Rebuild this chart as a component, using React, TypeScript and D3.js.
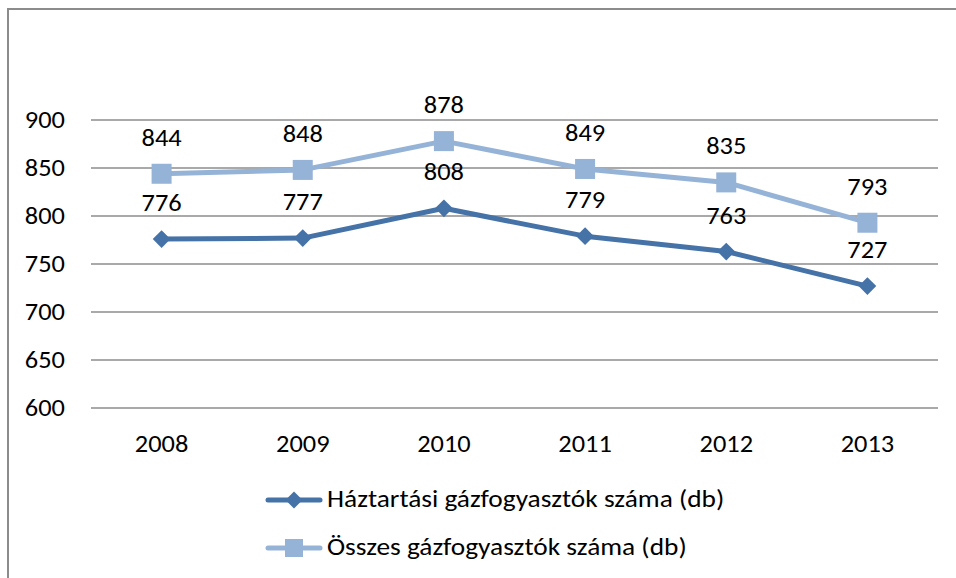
import * as d3 from 'd3'

const years = ['2008', '2009', '2010', '2011', '2012', '2013']
const households = [776, 777, 808, 779, 763, 727]
const total = [844, 848, 878, 849, 835, 793]
const yTicks = [600, 650, 700, 750, 800, 850, 900]
const seriesNames = ['Háztartási gázfogyasztók száma (db)', 'Összes gázfogyasztók száma (db)']

const W = 956
const H = 578
const font = 'Carlito, Calibri, "Open Sans", sans-serif'
const dark = '#4572a7'
const light = '#95b3d7'
const FS = 24
const SX = 1.1 // reference text is a bit wider than tall

// text drawn through a translate + horizontal stretch
const Label = ({ x, y, anchor = 'middle', sx = SX, children }: any) => (
  <text
    transform={`translate(${x},${y}) scale(${sx},1)`}
    textAnchor={anchor}
    fontSize={FS}
    fontFamily={font}
    fill="#000"
  >
    {children}
  </text>
)

export default function App() {
  const x = d3.scaleBand().domain(years).range([91, 938])
  const y = d3.scaleLinear().domain([600, 900]).range([408, 120])
  const cx = (yr: string) => (x(yr) ?? 0) + x.bandwidth() / 2

  const line = d3
    .line<number>()
    .x((_, i) => cx(years[i]))
    .y(d => y(d))

  const diamond = d3.symbol().type(d3.symbolDiamond2).size(200)
  const legDiamond = d3.symbol().type(d3.symbolDiamond2).size(185)

  const series = [
    { name: seriesNames[0], values: households, color: dark, marker: 'diamond' },
    { name: seriesNames[1], values: total, color: light, marker: 'square' },
  ]

  return (
    <svg width={W} height={H} style={{ position: 'absolute', left: 0, top: 0 }}>
      <rect x={0} y={0} width={W} height={H} fill="white" />
      <rect x={8} y={9} width={W + 20} height={H + 20} fill="none" stroke="#8c8c8c" strokeWidth={2} />

      {yTicks.map(t => (
        <g key={t}>
          <line x1={91} x2={938} y1={y(t)} y2={y(t)} stroke="#8c8c8c" strokeWidth={1.5} />
          <Label x={65} y={y(t) + 7.5} anchor="end">
            {t}
          </Label>
        </g>
      ))}

      {years.map(yr => (
        <Label key={yr} x={cx(yr)} y={452}>
          {yr}
        </Label>
      ))}

      {series.map(s => (
        <g key={s.name}>
          <path d={line(s.values) ?? ''} fill="none" stroke={s.color} strokeWidth={5} strokeLinejoin="round" />
          {s.values.map((v, i) =>
            s.marker === 'diamond' ? (
              <path key={i} d={diamond() ?? ''} transform={`translate(${cx(years[i])},${y(v)})`} fill={s.color} />
            ) : (
              <rect key={i} x={cx(years[i]) - 10} y={y(v) - 10} width={20} height={20} fill={s.color} />
            )
          )}
          {s.values.map((v, i) => (
            <Label key={'l' + i} x={cx(years[i])} y={y(v) - 28}>
              {v}
            </Label>
          ))}
        </g>
      ))}

      {series.map((s, i) => {
        const ly = 500 + i * 48
        return (
          <g key={'leg' + i}>
            <line x1={268} x2={320} y1={ly} y2={ly} stroke={s.color} strokeWidth={5} strokeLinecap="round" />
            {s.marker === 'diamond' ? (
              <path d={legDiamond() ?? ''} transform={`translate(294,${ly})`} fill={s.color} />
            ) : (
              <rect x={285} y={ly - 9} width={18} height={18} fill={s.color} />
            )}
            <Label x={327} y={ly + 7} anchor="start" sx={1.14}>
              {s.name}
            </Label>
          </g>
        )
      })}
    </svg>
  )
}
